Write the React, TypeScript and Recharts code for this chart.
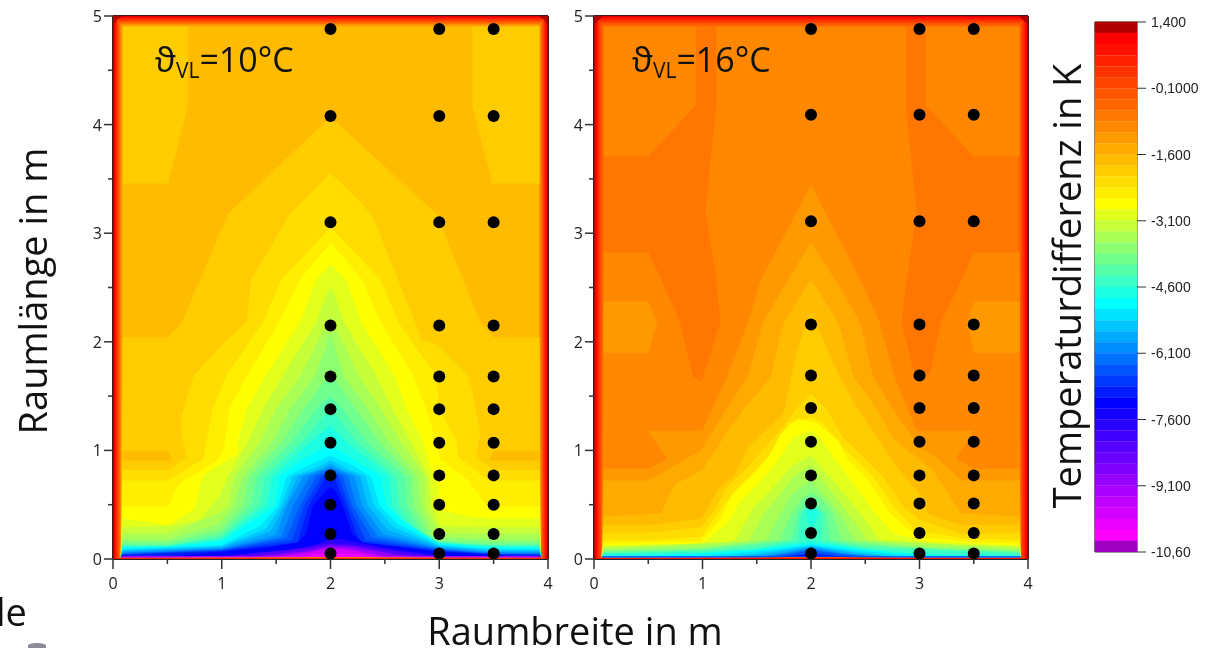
import { ScatterChart, Scatter, XAxis, YAxis, ReferenceLine } from 'recharts';

type Pt = [number, number];
type Contour = { band: number; pts: Pt[] };

// colour scale, top to bottom
const bandColors = [
  '#b00000', '#ff0000', '#ff1100', '#ff2200', '#ff3300', '#ff4400', '#ff5500', '#ff6600', '#ff7700', '#ff8800',
  '#ff9900', '#ffaa00', '#ffbb00', '#ffcc00', '#ffdd00', '#ffee00', '#ffff00', '#e3ff1c', '#c6ff39', '#aaff55',
  '#8eff71', '#71ff8e', '#55ffaa', '#39ffc6', '#1cffe3', '#00ffff', '#00e3ff', '#00c6ff', '#00aaff', '#008eff',
  '#0071ff', '#0055ff', '#0039ff', '#001cff', '#0000ff', '#1500ff', '#2a00ff', '#4000ff', '#5500ff', '#6a00ff',
  '#8000ff', '#9500ff', '#aa00ff', '#bf00ff', '#d400ff', '#ea00ff', '#ff00ff', '#a000c0',
];
const scaleLevels = [
  1.4, 1.15, 0.9, 0.65, 0.4, 0.15, -0.1, -0.35, -0.6, -0.85, -1.1, -1.35, -1.6, -1.85, -2.1, -2.35, -2.6, -2.85, -3.1,
  -3.35, -3.6, -3.85, -4.1, -4.35, -4.6, -4.85, -5.1, -5.35, -5.6, -5.85, -6.1, -6.35, -6.6, -6.85, -7.1, -7.35, -7.6,
  -7.85, -8.1, -8.35, -8.6, -8.85, -9.1, -9.35, -9.6, -9.85, -10.1, -10.35, -10.6,
];
const scaleTicks = [1.4, -0.1, -1.6, -3.1, -4.6, -6.1, -7.6, -9.1, -10.6];
const scaleLabels = ['1,400', '-0,1000', '-1,600', '-3,100', '-4,600', '-6,100', '-7,600', '-9,100', '-10,60'];

const xTicks = [0, 0.5, 1, 1.5, 2, 2.5, 3, 3.5, 4];
const yTicks = [0, 0.5, 1, 1.5, 2, 2.5, 3, 3.5, 4, 4.5, 5];

// measuring points
const dotX = [2, 3, 3.5];
const dotYLeft = [0.05, 0.23, 0.5, 0.77, 1.07, 1.38, 1.68, 2.15, 3.1, 4.08, 4.88];
const dotYRight = [0.05, 0.24, 0.51, 0.77, 1.08, 1.39, 1.69, 2.16, 3.11, 4.09, 4.88];

// wall strip: band, inset left/right, inset top, inset bottom, corner cut
const leftFrame: number[][] = [
  [1, 0.012, 0.006, 0, 0.07], [2, 0.02, 0.014, 0.002, 0.05], [3, 0.028, 0.022, 0.004, 0.03], [4, 0.035, 0.03, 0.006, 0],
  [5, 0.042, 0.04, 0.008, 0], [6, 0.049, 0.05, 0.01, 0], [7, 0.056, 0.058, 0.012, 0], [8, 0.063, 0.066, 0.014, 0],
  [9, 0.07, 0.074, 0.016, 0], [10, 0.077, 0.082, 0.018, 0], [11, 0.084, 0.09, 0.019, 0], [12, 0.09, 0.1, 0.02, 0],
];
const rightFrame: number[][] = [
  [1, 0.012, 0.006, 0, 0.07], [2, 0.022, 0.016, 0.003, 0.05], [3, 0.032, 0.028, 0.006, 0.03], [4, 0.042, 0.04, 0.009, 0],
  [5, 0.052, 0.052, 0.012, 0], [6, 0.062, 0.064, 0.014, 0], [7, 0.075, 0.08, 0.017, 0], [8, 0.09, 0.1, 0.02, 0],
];

const ground = (pts: Pt[]): Pt[] => [[0.075, 0.02], ...pts, [3.93, 0.02]];

const leftContours: Contour[] = [
  { band: 13, pts: [[0.09, 4.9], [0.69, 4.9], [0.69, 4.18], [0.506, 3.46], [0.09, 3.46]] },
  { band: 13, pts: [[3.305, 4.9], [3.92, 4.9], [3.92, 3.46], [3.49, 3.46], [3.305, 4.18]] },
  { band: 13, pts: ground([[0.09, 2.04], [0.506, 2.04], [0.63, 2.17], [0.8, 2.57], [1.06, 3.18], [2, 4.07], [2.97, 3.18], [3.22, 2.57], [3.376, 2.18], [3.5, 2.04], [3.92, 2.04]]) },
  { band: 12, pts: [[0.09, 0.995], [0.5, 0.995], [0.54, 0.91], [0.09, 0.91]] },
  { band: 12, pts: [[3.5, 0.995], [3.92, 0.995], [3.92, 0.91], [3.46, 0.91]] },
  { band: 14, pts: ground([[0.09, 0.82], [0.51, 0.82], [0.68, 0.94], [0.63, 1.16], [0.63, 1.31], [0.74, 1.68], [1.01, 1.98], [1.23, 2.18], [1.27, 2.57], [1.63, 3.18], [2, 3.55], [2.25, 3.31], [2.39, 3.15], [2.78, 2.17], [2.83, 2.02], [2.99, 1.97], [3.27, 1.68], [3.38, 1.16], [3.33, 0.94], [3.5, 0.82], [3.92, 0.82]]) },
  { band: 15, pts: ground([[0.09, 0.72], [0.51, 0.72], [0.83, 0.92], [0.86, 1.07], [0.92, 1.38], [1.04, 1.68], [1.38, 2.18], [1.55, 2.57], [2, 3.05], [2.46, 2.57], [2.62, 2.18], [2.97, 1.68], [3, 1.38], [3.16, 1.07], [3.17, 0.94], [3.45, 0.72], [3.92, 0.72]]) },
  { band: 16, pts: ground([[0.09, 0.48], [0.51, 0.48], [0.6, 0.68], [0.98, 0.92], [1.03, 1.07], [1.07, 1.38], [1.23, 1.68], [1.53, 2.18], [1.72, 2.57], [2, 2.91], [2.29, 2.57], [2.46, 2.18], [2.76, 1.68], [2.88, 1.38], [2.97, 1.07], [3, 0.92], [3.27, 0.72], [3.44, 0.48], [3.92, 0.48]]) },
  { band: 17, pts: ground([[0.09, 0.37], [0.51, 0.31], [0.75, 0.46], [0.83, 0.77], [1.15, 0.97], [1.15, 1.07], [1.23, 1.38], [1.4, 1.68], [1.72, 2.18], [1.87, 2.57], [2, 2.71], [2.14, 2.57], [2.28, 2.18], [2.59, 1.68], [2.7, 1.38], [2.85, 1.07], [2.91, 0.86], [2.99, 0.66], [3, 0.45], [3.27, 0.39], [3.5, 0.37], [3.92, 0.37]]) },
  { band: 18, pts: ground([[0.09, 0.29], [0.51, 0.3], [0.8, 0.36], [0.98, 0.57], [1.06, 0.76], [1.24, 1.07], [1.38, 1.38], [1.56, 1.68], [1.87, 2.18], [1.96, 2.42], [2, 2.5], [2.03, 2.45], [2.12, 2.18], [2.42, 1.68], [2.57, 1.38], [2.74, 1.07], [2.9, 0.76], [2.93, 0.49], [3, 0.3], [3.5, 0.29], [3.92, 0.29]]) },
  { band: 19, pts: ground([[0.09, 0.23], [0.51, 0.23], [0.98, 0.42], [1.06, 0.49], [1.12, 0.76], [1.35, 1.07], [1.5, 1.38], [1.72, 1.68], [2, 2.23], [2.26, 1.68], [2.46, 1.38], [2.65, 1.07], [2.87, 0.76], [2.87, 0.49], [3, 0.24], [3.5, 0.23], [3.92, 0.23]]) },
  { band: 20, pts: ground([[0.09, 0.18], [0.51, 0.18], [0.98, 0.32], [1.12, 0.49], [1.2, 0.76], [1.46, 1.07], [1.63, 1.38], [1.86, 1.68], [2, 2.08], [2.12, 1.68], [2.34, 1.38], [2.54, 1.07], [2.8, 0.76], [2.82, 0.49], [2.95, 0.2], [3.5, 0.18], [3.92, 0.18]]) },
  { band: 21, pts: ground([[0.09, 0.15], [0.51, 0.15], [1, 0.27], [1.2, 0.49], [1.26, 0.76], [1.55, 1.07], [1.75, 1.38], [2, 1.71], [2.23, 1.38], [2.45, 1.07], [2.74, 0.76], [2.76, 0.49], [2.9, 0.23], [3, 0.17], [3.5, 0.15], [3.92, 0.15]]) },
  { band: 22, pts: ground([[0.09, 0.13], [0.51, 0.13], [1, 0.23], [1.27, 0.49], [1.33, 0.76], [1.64, 1.07], [1.87, 1.38], [2, 1.5], [2.11, 1.38], [2.34, 1.07], [2.68, 0.76], [2.7, 0.49], [2.85, 0.23], [3, 0.15], [3.5, 0.13], [3.92, 0.13]]) },
  { band: 23, pts: ground([[0.09, 0.12], [0.51, 0.12], [1, 0.2], [1.35, 0.49], [1.4, 0.76], [1.73, 1.07], [2, 1.38], [2.25, 1.07], [2.6, 0.76], [2.63, 0.49], [2.8, 0.23], [3, 0.14], [3.5, 0.12], [3.92, 0.12]]) },
  { band: 24, pts: ground([[0.09, 0.115], [0.51, 0.115], [1, 0.18], [1.41, 0.49], [1.47, 0.76], [1.81, 1.07], [2, 1.23], [2.15, 1.07], [2.54, 0.76], [2.57, 0.49], [2.75, 0.23], [3, 0.15], [3.5, 0.115], [3.92, 0.115]]) },
  { band: 25, pts: ground([[0.09, 0.1], [0.51, 0.11], [1, 0.16], [1.32, 0.37], [1.49, 0.49], [1.53, 0.76], [1.75, 0.92], [2, 1.05], [2.2, 0.92], [2.46, 0.76], [2.51, 0.49], [2.65, 0.36], [3, 0.14], [3.5, 0.1], [3.92, 0.1]]) },
  { band: 26, pts: ground([[0.09, 0.09], [1, 0.125], [1.35, 0.3], [1.52, 0.49], [1.6, 0.76], [1.8, 0.86], [2, 0.95], [2.2, 0.86], [2.37, 0.76], [2.45, 0.49], [2.62, 0.32], [3, 0.13], [3.5, 0.09], [3.92, 0.09]]) },
  { band: 27, pts: ground([[0.09, 0.08], [1, 0.115], [1.4, 0.27], [1.55, 0.49], [1.65, 0.76], [1.85, 0.83], [2, 0.91], [2.15, 0.83], [2.32, 0.76], [2.4, 0.49], [2.58, 0.29], [3, 0.12], [3.5, 0.08], [3.92, 0.08]]) },
  { band: 28, pts: ground([[0.09, 0.07], [1, 0.105], [1.45, 0.25], [1.58, 0.49], [1.7, 0.76], [1.9, 0.82], [2, 0.88], [2.1, 0.82], [2.27, 0.76], [2.34, 0.49], [2.53, 0.26], [3, 0.11], [3.5, 0.07], [3.92, 0.07]]) },
  { band: 29, pts: ground([[0.09, 0.06], [1, 0.095], [1.5, 0.22], [1.6, 0.49], [1.75, 0.76], [2, 0.85], [2.22, 0.76], [2.29, 0.49], [2.48, 0.23], [3, 0.1], [3.5, 0.06], [3.92, 0.06]]) },
  { band: 30, pts: ground([[0.09, 0.05], [1, 0.09], [1.55, 0.2], [1.66, 0.49], [1.81, 0.76], [2, 0.83], [2.16, 0.76], [2.24, 0.49], [2.43, 0.21], [3, 0.09], [3.5, 0.05], [3.92, 0.05]]) },
  { band: 31, pts: ground([[0.09, 0.045], [1, 0.08], [1.6, 0.19], [1.72, 0.49], [1.87, 0.76], [2, 0.81], [2.11, 0.76], [2.2, 0.49], [2.38, 0.19], [3, 0.085], [3.5, 0.045], [3.92, 0.045]]) },
  { band: 32, pts: ground([[0.09, 0.04], [1, 0.075], [1.65, 0.17], [1.76, 0.49], [1.92, 0.76], [2, 0.8], [2.07, 0.76], [2.17, 0.49], [2.32, 0.17], [3, 0.08], [3.5, 0.04], [3.92, 0.04]]) },
  { band: 33, pts: ground([[0.09, 0.035], [1, 0.07], [1.7, 0.15], [1.8, 0.49], [1.96, 0.76], [2, 0.79], [2.03, 0.76], [2.14, 0.49], [2.27, 0.15], [3, 0.07], [3.5, 0.04], [3.92, 0.035]]) },
  { band: 34, pts: ground([[0.55, 0.02], [1, 0.065], [1.47, 0.11], [1.7, 0.15], [1.78, 0.23], [1.84, 0.49], [1.95, 0.62], [2, 0.66], [2.05, 0.62], [2.11, 0.49], [2.2, 0.23], [2.3, 0.15], [3, 0.065], [3.5, 0.035], [3.7, 0.02]]) },
  { band: 36, pts: ground([[0.7, 0.02], [1.05, 0.03], [1.75, 0.09], [2, 0.18], [2.1, 0.18], [2.5, 0.1], [3, 0.03], [3.1, 0.02]]) },
  { band: 38, pts: ground([[1, 0.02], [1.6, 0.08], [2, 0.14], [2.2, 0.13], [2.6, 0.07], [3, 0.02]]) },
  { band: 41, pts: ground([[1.3, 0.02], [1.75, 0.07], [2, 0.12], [2.2, 0.11], [2.6, 0.04], [2.8, 0.02]]) },
  { band: 44, pts: ground([[1.5, 0.02], [1.8, 0.06], [2, 0.1], [2.15, 0.09], [2.5, 0.02]]) },
  { band: 46, pts: ground([[1.75, 0.02], [2, 0.05], [2.2, 0.04], [2.4, 0.02]]) },
];

const rightContours: Contour[] = [
  { band: 9, pts: [[0.09, 4.9], [0.94, 4.9], [0.94, 4.18], [0.5, 3.71], [0.09, 3.71]] },
  { band: 9, pts: [[3.06, 4.9], [3.92, 4.9], [3.92, 3.71], [3.5, 3.71], [3.06, 4.18]] },
  { band: 9, pts: ground([[0.09, 2.82], [0.5, 2.82], [0.62, 2.57], [0.79, 2.18], [0.91, 1.68], [0.99, 1.63], [1.17, 2.18], [1.13, 2.57], [1.03, 3.2], [1.13, 4.18], [1.13, 4.9], [2.87, 4.9], [2.87, 4.18], [2.97, 3.2], [2.88, 2.57], [2.83, 2.18], [2.94, 1.74], [3.05, 1.68], [3.1, 1.71], [3.2, 2.18], [3.39, 2.57], [3.5, 2.82], [3.92, 2.82]]) },
  { band: 10, pts: [[0.09, 2.37], [0.5, 2.37], [0.58, 2.18], [0.5, 1.9], [0.09, 1.9]] },
  { band: 10, pts: [[3.5, 2.37], [3.92, 2.37], [3.92, 1.9], [3.5, 1.9], [3.44, 2.18]] },
  { band: 10, pts: ground([[0.09, 0.83], [0.5, 0.83], [0.68, 0.92], [0.5, 1.18], [1, 1.18], [1.23, 1.68], [1.42, 2.18], [1.54, 2.57], [2, 3.44], [2.45, 2.57], [2.63, 2.18], [2.76, 1.7], [2.97, 1.18], [3.5, 1.18], [3.33, 0.92], [3.5, 0.83], [3.92, 0.83]]) },
  { band: 11, pts: ground([[0.09, 0.72], [0.5, 0.72], [0.85, 0.92], [0.99, 1], [1.23, 1.39], [1.42, 1.68], [1.56, 2.18], [1.79, 2.57], [2, 2.91], [2.22, 2.57], [2.45, 2.18], [2.57, 1.68], [2.74, 1.4], [3, 1.03], [3.17, 0.92], [3.39, 0.72], [3.92, 0.72]]) },
  { band: 12, pts: ground([[0.09, 0.39], [0.62, 0.42], [0.74, 0.68], [1, 0.82], [1.14, 1.03], [1.26, 1.22], [1.63, 1.68], [1.75, 2.18], [2, 2.57], [2.25, 2.18], [2.39, 1.68], [2.59, 1.4], [2.77, 1.09], [2.97, 0.94], [3.13, 0.8], [3.38, 0.42], [3.92, 0.39]]) },
  { band: 13, pts: ground([[0.09, 0.31], [0.5, 0.31], [0.99, 0.37], [1.16, 0.66], [1.29, 0.76], [1.42, 1.03], [1.75, 1.34], [1.88, 1.95], [2, 2.27], [2.14, 1.95], [2.26, 1.68], [2.42, 1.4], [2.63, 1.09], [2.79, 0.85], [3, 0.6], [3.07, 0.42], [3.38, 0.31], [3.92, 0.31]]) },
  { band: 14, pts: ground([[0.09, 0.24], [0.5, 0.24], [0.99, 0.29], [1.13, 0.48], [1.23, 0.66], [1.42, 0.85], [1.72, 1.19], [1.88, 1.4], [2, 1.52], [2.14, 1.38], [2.29, 1.12], [2.45, 0.97], [2.66, 0.76], [2.85, 0.48], [3, 0.36], [3.38, 0.23], [3.92, 0.24]]) },
  { band: 15, pts: ground([[0.09, 0.17], [0.5, 0.17], [0.99, 0.2], [1.1, 0.36], [1.23, 0.54], [1.36, 0.69], [1.54, 0.85], [1.72, 1.09], [1.79, 1.25], [2, 1.3], [2.11, 1.25], [2.26, 1.06], [2.39, 0.94], [2.57, 0.76], [2.76, 0.48], [2.97, 0.26], [3.38, 0.19], [3.92, 0.17]]) },
  { band: 16, pts: ground([[0.09, 0.14], [0.99, 0.16], [1.16, 0.36], [1.28, 0.6], [1.45, 0.76], [1.63, 0.97], [1.72, 1.15], [1.88, 1.29], [2, 1.26], [2.05, 1.25], [2.25, 1.09], [2.32, 0.94], [2.53, 0.72], [2.7, 0.45], [2.88, 0.28], [3.07, 0.19], [3.38, 0.16], [3.92, 0.14]]) },
  { band: 17, pts: ground([[0.09, 0.125], [1, 0.14], [1.23, 0.33], [1.36, 0.54], [1.54, 0.72], [1.68, 0.88], [1.84, 1.12], [2, 1.18], [2.08, 1.12], [2.2, 0.94], [2.39, 0.69], [2.57, 0.45], [2.76, 0.23], [3.07, 0.16], [3.92, 0.125]]) },
  { band: 18, pts: ground([[0.09, 0.11], [1.14, 0.13], [1.3, 0.17], [1.36, 0.28], [1.48, 0.48], [1.63, 0.63], [1.82, 0.85], [2, 0.95], [2.09, 0.85], [2.28, 0.63], [2.45, 0.42], [2.63, 0.17], [3.22, 0.13], [3.92, 0.11]]) },
  { band: 19, pts: ground([[0.09, 0.1], [1.42, 0.16], [1.57, 0.42], [1.72, 0.6], [1.84, 0.76], [2, 0.86], [2.08, 0.76], [2.2, 0.6], [2.34, 0.42], [2.52, 0.17], [3.92, 0.1]]) },
  { band: 20, pts: ground([[0.09, 0.08], [1, 0.11], [1.59, 0.17], [1.72, 0.42], [1.83, 0.6], [2, 0.72], [2.11, 0.6], [2.26, 0.42], [2.4, 0.17], [3.07, 0.11], [3.92, 0.08]]) },
  { band: 21, pts: ground([[0.09, 0.07], [1, 0.09], [1.72, 0.17], [1.82, 0.42], [1.91, 0.54], [2, 0.62], [2.11, 0.54], [2.2, 0.42], [2.28, 0.17], [2.91, 0.1], [3.92, 0.07]]) },
  { band: 22, pts: ground([[0.09, 0.06], [1, 0.08], [1.82, 0.17], [1.88, 0.42], [2, 0.56], [2.1, 0.45], [2.14, 0.42], [2.17, 0.17], [2.5, 0.12], [3.92, 0.06]]) },
  { band: 23, pts: ground([[0.09, 0.05], [1, 0.07], [1.5, 0.1], [1.88, 0.17], [1.91, 0.42], [2, 0.52], [2.1, 0.42], [2.09, 0.17], [2.5, 0.1], [3.92, 0.05]]) },
  { band: 24, pts: [[1.95, 0.42], [2, 0.5], [2.07, 0.42], [2, 0.28]] },
  { band: 24, pts: ground([[0.09, 0.04], [1, 0.055], [1.5, 0.09], [2, 0.16], [2.5, 0.09], [3, 0.045], [3.92, 0.03]]) },
  { band: 25, pts: ground([[0.4, 0.02], [1, 0.05], [1.5, 0.08], [2, 0.14], [2.5, 0.08], [3, 0.035], [3.3, 0.02]]) },
  { band: 26, pts: ground([[0.9, 0.02], [1.3, 0.05], [1.7, 0.09], [2, 0.13], [2.4, 0.08], [2.8, 0.04], [3.05, 0.02]]) },
  { band: 27, pts: ground([[1.2, 0.02], [1.6, 0.06], [2, 0.12], [2.4, 0.06], [2.8, 0.02]]) },
  { band: 28, pts: ground([[1.35, 0.02], [1.7, 0.06], [2, 0.11], [2.35, 0.06], [2.7, 0.02]]) },
  { band: 29, pts: ground([[1.5, 0.02], [1.75, 0.05], [2, 0.1], [2.3, 0.05], [2.6, 0.02]]) },
  { band: 30, pts: ground([[1.58, 0.02], [1.8, 0.05], [2, 0.09], [2.25, 0.05], [2.52, 0.02]]) },
  { band: 31, pts: ground([[1.65, 0.02], [1.85, 0.05], [2, 0.08], [2.2, 0.05], [2.45, 0.02]]) },
  { band: 33, pts: ground([[1.75, 0.02], [2, 0.05], [2.2, 0.03], [2.35, 0.02]]) },
];

const framePolygon = ([, dx, top, bottom, cut]: number[]): Pt[] => [
  [dx, bottom],
  [dx, 5 - top - cut],
  [dx + cut, 5 - top],
  [4 - dx - cut, 5 - top],
  [4 - dx, 5 - top - cut],
  [4 - dx, bottom],
];

const toRows = (pts: Pt[]) => pts.map(([x, y]) => ({ x, y }));
const noMark = () => null;
const dotMark = (p: any) => <circle cx={p.cx} cy={p.cy} r={6} fill="#000" />;

const tickFont = { fontFamily: "'Open Sans'", fontSize: 16, fill: '#222' };

const xTick = (p: any) => {
  const v = p.payload.value;
  const major = Number.isInteger(v);
  return (
    <g>
      <line x1={p.x} x2={p.x} y1={p.y} y2={p.y + (major ? 10 : 5)} stroke="#333" strokeWidth={1.5} />
      {major && <text x={p.x} y={p.y + 30} textAnchor="middle" {...tickFont}>{v}</text>}
    </g>
  );
};

const yTick = (p: any) => {
  const v = p.payload.value;
  const major = Number.isInteger(v);
  return (
    <g>
      <line x1={p.x - (major ? 9 : 5)} x2={p.x} y1={p.y} y2={p.y} stroke="#333" strokeWidth={1.5} />
      {major && <text x={p.x - 11} y={p.y + 6} textAnchor="end" {...tickFont}>{v}</text>}
    </g>
  );
};

const filled = (key: string, band: number, pts: Pt[]) => (
  <Scatter
    key={key}
    data={toRows(pts)}
    line={{ fill: bandColors[band], stroke: bandColors[band], strokeWidth: 0.5 }}
    shape={noMark}
    legendType="none"
    isAnimationActive={false}
  />
);

function ContourPanel({ width, frame, contours, dotY }: { width: number; frame: number[][]; contours: Contour[]; dotY: number[] }) {
  const dots = dotX.flatMap((x) => dotY.map((y) => ({ x, y })));
  return (
    <ScatterChart width={width} height={593} margin={{ top: 10, right: 5, bottom: 0, left: 0 }}>
      {filled('wall', 0, [[0, 0], [0, 5], [4, 5], [4, 0]])}
      {frame.map((f, i) => filled(`frame${i}`, f[0], framePolygon(f)))}
      {contours.map((c, i) => filled(`c${i}`, c.band, c.pts))}
      <Scatter data={dots} shape={dotMark} legendType="none" isAnimationActive={false} />
      <ReferenceLine y={5} stroke="#222" strokeWidth={2} />
      <ReferenceLine x={4} stroke="#222" strokeWidth={2} />
      <XAxis type="number" dataKey="x" domain={[0, 4]} ticks={xTicks} interval={0} height={40} tickSize={0} tickMargin={0} tickLine={false} tick={xTick} stroke="#222" strokeWidth={2} />
      <YAxis type="number" dataKey="y" domain={[0, 5]} ticks={yTicks} interval={0} width={58} tickSize={0} tickMargin={0} tickLine={false} tick={yTick} stroke="#222" strokeWidth={2} />
    </ScatterChart>
  );
}

function ColorScale() {
  const scaleTick = (p: any) => {
    const i = scaleTicks.indexOf(p.payload.value);
    return (
      <g>
        <line x1={p.x} x2={p.x + 9} y1={p.y} y2={p.y} stroke="#333" strokeWidth={1} />
        <text x={p.x + 14} y={p.y + 5} fontFamily="'Liberation Sans'" fontSize={14} fill="#222">{scaleLabels[i]}</text>
      </g>
    );
  };
  return (
    <ScatterChart width={130} height={550} margin={{ top: 10, right: 23, bottom: 10, left: 5 }}>
      {bandColors.map((_, i) =>
        filled(`s${i}`, i, [[0, scaleLevels[i + 1]], [0, scaleLevels[i]], [1, scaleLevels[i]], [1, scaleLevels[i + 1]]]),
      )}
      <ReferenceLine y={1.4} stroke="#333" />
      <ReferenceLine y={-10.6} stroke="#333" />
      <ReferenceLine x={0} stroke="#555" strokeWidth={1.5} />
      <XAxis type="number" dataKey="x" domain={[0, 1]} hide />
      <YAxis type="number" dataKey="y" orientation="right" domain={[-10.6, 1.4]} ticks={scaleTicks} interval={0} width={60} tickSize={0} tickMargin={0} tickLine={false} tick={scaleTick} stroke="#333" />
    </ScatterChart>
  );
}

const place = (left: number, top: number): React.CSSProperties => ({ position: 'absolute', left, top });
const titleFont: React.CSSProperties = { fontFamily: "'Open Sans'", fontSize: 38, color: '#111', whiteSpace: 'nowrap', lineHeight: 0.85 };

export default function App() {
  return (
    <div style={{ position: 'absolute', left: 0, top: 0, width: 1230, height: 648, overflow: 'hidden', background: '#fff', filter: 'blur(0.4px)' }}>
      <div style={place(55, 6)}>
        <ContourPanel width={498} frame={leftFrame} contours={leftContours} dotY={dotYLeft} />
      </div>
      <div style={place(536, 6)}>
        <ContourPanel width={497} frame={rightFrame} contours={rightContours} dotY={dotYRight} />
      </div>
      <div style={place(1090, 12)}>
        <ColorScale />
      </div>

      <div style={{ ...place(155, 45), ...titleFont, fontSize: 34 }}>
        ϑ<sub style={{ fontSize: 21, verticalAlign: -6 }}>VL</sub>=10°C
      </div>
      <div style={{ ...place(632, 45), ...titleFont, fontSize: 34 }}>
        ϑ<sub style={{ fontSize: 21, verticalAlign: -6 }}>VL</sub>=16°C
      </div>

      <div style={{ ...place(32, 291), ...titleFont, transform: 'translate(-50%, -50%) rotate(-90deg)' }}>Raumlänge in m</div>
      <div style={{ ...place(1066, 286), ...titleFont, transform: 'translate(-50%, -50%) rotate(-90deg)' }}>Temperaturdifferenz in K</div>
      <div style={{ ...place(575, 630), ...titleFont, transform: 'translate(-50%, -50%)' }}>Raumbreite in m</div>
      <div style={{ ...place(-4, 595), ...titleFont }}>le</div>
      <div style={{ ...place(28, 643), width: 18, height: 5, borderRadius: '60% 60% 0 0', background: '#8f8a99' }} />
    </div>
  );
}
